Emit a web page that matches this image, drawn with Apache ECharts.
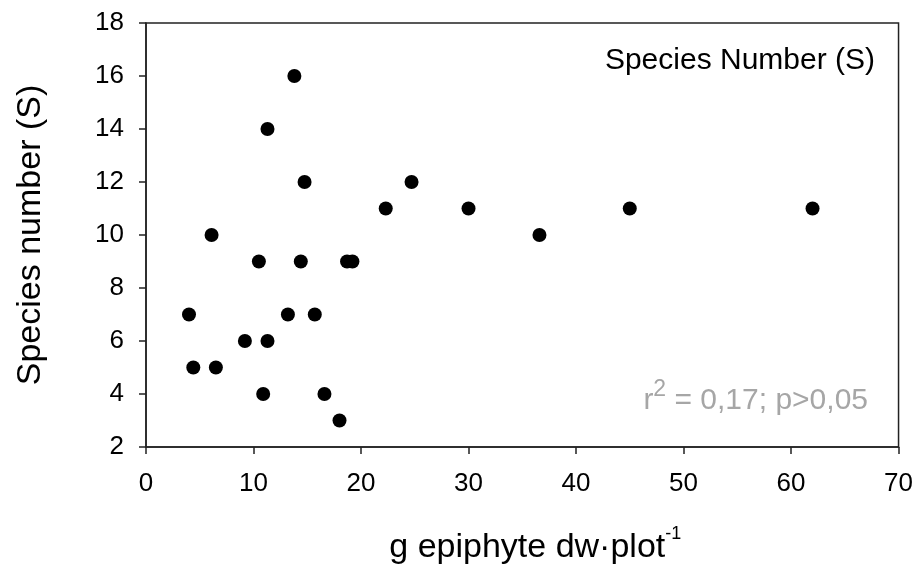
<!DOCTYPE html>
<html>
<head>
<meta charset="utf-8">
<script src="https://cdn.jsdelivr.net/npm/echarts@6/dist/echarts.min.js"></script>
<style>
html,body{margin:0;padding:0;background:#fff;}
#c{width:916px;height:572px;}
</style>
</head>
<body>
<div id="c"></div>
<script>
// Data
var biomass = [13.8, 11.3, 14.75, 24.7, 22.3, 30.0, 6.1, 10.5, 14.4, 18.7, 19.2, 4.0, 13.2, 15.7, 9.2, 11.3, 4.4, 6.5, 10.9, 16.6, 18.0, 36.6, 45.0, 62.0];
var species = [16, 14, 12, 12, 11, 11, 10, 9, 9, 9, 9, 7, 7, 7, 6, 6, 5, 5, 4, 4, 3, 10, 11, 11];
var xTicks = [0, 10, 20, 30, 40, 50, 60, 70];
var yTicks = [2, 4, 6, 8, 10, 12, 14, 16, 18];

var pts = biomass.map(function (x, i) { return [x, species[i]]; });
var FONT = '"Liberation Sans", Arial, sans-serif';

var chart = echarts.init(document.getElementById('c'), null, {renderer: 'canvas'});
chart.setOption({
  animation: false,
  backgroundColor: '#fff',
  grid: {left: 146, right: 14, top: 23, bottom: 125, show: true, borderColor: '#222', borderWidth: 1.5},
  xAxis: {
    type: 'value', min: xTicks[0], max: xTicks[xTicks.length - 1], interval: 10,
    name: '{m|g epiphyte dw·plot}{s|-1}',
    nameLocation: 'middle', nameGap: 78,
    nameTextStyle: {
      padding: [0, 0, 0, 26],
      rich: {
        m: {fontSize: 34, fontFamily: FONT, color: '#000', verticalAlign: 'bottom', lineHeight: 40},
        s: {fontSize: 18, fontFamily: FONT, color: '#000', verticalAlign: 'top', lineHeight: 40, padding: [0, 0, 24, 0]}
      }
    },
    axisLine: {show: true, onZero: false, lineStyle: {color: '#222', width: 1.5}},
    axisTick: {show: true, inside: false, length: 7, lineStyle: {color: '#222', width: 1.5}},
    axisLabel: {fontSize: 26, fontFamily: FONT, color: '#000', margin: 24},
    splitLine: {show: false}
  },
  yAxis: {
    type: 'value', min: yTicks[0], max: yTicks[yTicks.length - 1], interval: 2,
    name: 'Species number (S)',
    nameLocation: 'middle', nameGap: 98,
    nameTextStyle: {fontSize: 34, fontFamily: FONT, color: '#000'},
    axisLine: {show: true, onZero: false, lineStyle: {color: '#222', width: 1.5}},
    axisTick: {show: true, inside: false, length: 7, lineStyle: {color: '#222', width: 1.5}},
    axisLabel: {fontSize: 26, fontFamily: FONT, color: '#000', margin: 22},
    splitLine: {show: false}
  },
  series: [{
    type: 'scatter',
    data: pts,
    symbol: 'circle',
    symbolSize: 14,
    itemStyle: {color: '#000', opacity: 1}
  }],
  graphic: [
    {
      type: 'text', right: 41, top: 46,
      style: {text: 'Species Number (S)', fontSize: 30, fontFamily: FONT, fill: '#000'}
    },
    {
      type: 'text', right: 48, top: 378,
      style: {
        text: '{r|r}{s|2}{r| = 0,17; p>0,05}',
        rich: {
          r: {fontSize: 30, fontFamily: FONT, fill: '#a6a6a6', color: '#a6a6a6', verticalAlign: 'bottom', lineHeight: 38},
          s: {fontSize: 23, fontFamily: FONT, fill: '#a6a6a6', color: '#a6a6a6', verticalAlign: 'top', lineHeight: 38}
        }
      }
    }
  ]
});
</script>
</body>
</html>
